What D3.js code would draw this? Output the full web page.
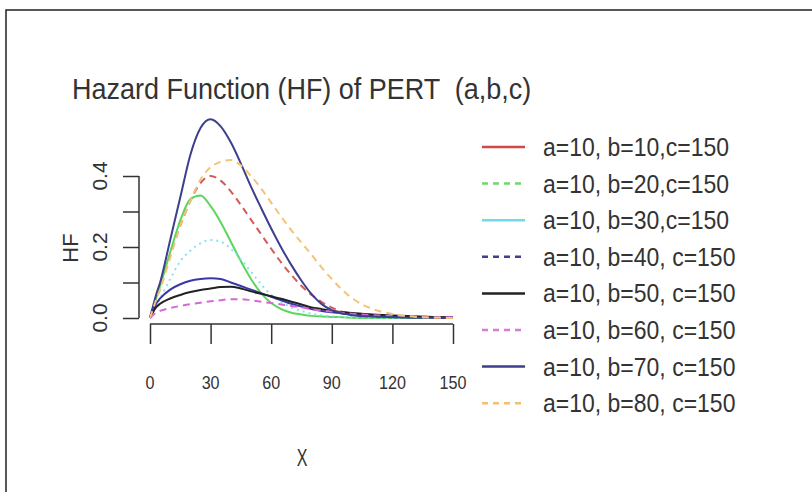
<!DOCTYPE html>
<html>
<head>
<meta charset="utf-8">
<script src="https://cdn.jsdelivr.net/npm/d3@7"></script>
<style>
  body { margin: 0; background: #fff; }
  text { font-family: "Liberation Sans", Arial, sans-serif; fill: #333; white-space: pre; }
</style>
</head>
<body>
<svg width="812" height="492"></svg>
<script>
// values
var xs = [0, 3, 5, 10, 15, 20, 25, 30, 35, 40, 45, 50, 55, 60, 65, 70, 75, 80, 85, 90, 95, 100, 110, 120, 130, 140, 150];

var hf_b10 = [0, 0.055, 0.09, 0.18, 0.26, 0.33, 0.38, 0.40, 0.387, 0.357, 0.318, 0.277, 0.236, 0.195, 0.156, 0.121, 0.09, 0.065, 0.045, 0.029, 0.018, 0.011, 0.005, 0.002, 0.001, 0, 0];
var hf_b20 = [0, 0.055, 0.09, 0.185, 0.275, 0.335, 0.345, 0.315, 0.27, 0.215, 0.16, 0.11, 0.07, 0.042, 0.025, 0.015, 0.01, 0.006, 0.004, 0.003, 0.002, 0.001, 0, 0, 0, 0, 0];
var hf_b30 = [0, 0.033, 0.055, 0.11, 0.16, 0.19, 0.21, 0.22, 0.215, 0.195, 0.165, 0.13, 0.095, 0.065, 0.045, 0.03, 0.02, 0.012, 0.008, 0.005, 0.003, 0.002, 0.001, 0, 0, 0, 0];
var hf_b40 = [0, 0.04, 0.055, 0.08, 0.095, 0.105, 0.11, 0.112, 0.11, 0.10, 0.09, 0.08, 0.07, 0.06, 0.05, 0.04, 0.032, 0.025, 0.02, 0.016, 0.013, 0.01, 0.007, 0.005, 0.003, 0.002, 0.001];
var hf_b50 = [0, 0.03, 0.04, 0.055, 0.065, 0.073, 0.079, 0.083, 0.087, 0.088, 0.083, 0.075, 0.068, 0.061, 0.054, 0.046, 0.038, 0.03, 0.025, 0.02, 0.017, 0.014, 0.01, 0.007, 0.005, 0.003, 0.002];
var hf_b60 = [0, 0.015, 0.02, 0.028, 0.034, 0.039, 0.043, 0.047, 0.05, 0.053, 0.053, 0.05, 0.046, 0.042, 0.038, 0.034, 0.03, 0.025, 0.021, 0.018, 0.015, 0.012, 0.008, 0.006, 0.004, 0.003, 0.002];
var hf_b70 = [0, 0.065, 0.10, 0.22, 0.34, 0.46, 0.535, 0.56, 0.54, 0.495, 0.435, 0.37, 0.31, 0.252, 0.198, 0.149, 0.105, 0.067, 0.039, 0.022, 0.013, 0.008, 0.004, 0.002, 0.001, 0.0005, 0];
var hf_b80 = [0, 0.05, 0.08, 0.17, 0.26, 0.33, 0.39, 0.425, 0.44, 0.445, 0.43, 0.40, 0.365, 0.325, 0.285, 0.247, 0.212, 0.178, 0.142, 0.11, 0.08, 0.056, 0.026, 0.011, 0.004, 0.001, 0];

var legendLabels = ["a=10, b=10,c=150", "a=10, b=20,c=150", "a=10, b=30,c=150", "a=10, b=40, c=150",
                    "a=10, b=50, c=150", "a=10, b=60, c=150", "a=10, b=70, c=150", "a=10, b=80, c=150"];
var xTicks = [0, 30, 60, 90, 120, 150];
var yTicks = [0, 0.1, 0.2, 0.3, 0.4];
var yTickLabels = ["0.0", "", "0.2", "", "0.4"];

// line styles: plot and legend do not agree in the original, keep both
var series = [
  {vals: hf_b10, color: "#d65a5a", plotDash: "7,5", legColor: "#d04848", legDash: null},
  {vals: hf_b20, color: "#5cd65c", plotDash: null,  legColor: "#6ed86e", legDash: "6,5"},
  {vals: hf_b30, color: "#86e2ee", plotDash: "2,4", legColor: "#6fdbea", legDash: null},
  {vals: hf_b40, color: "#3838a8", plotDash: null,  legColor: "#40408e", legDash: "6,5"},
  {vals: hf_b50, color: "#222222", plotDash: null,  legColor: "#222222", legDash: null},
  {vals: hf_b60, color: "#d46ad4", plotDash: "7,5", legColor: "#d47ed8", legDash: "6,5"},
  {vals: hf_b70, color: "#3d3f8e", plotDash: null,  legColor: "#3d3f8e", legDash: null},
  {vals: hf_b80, color: "#f2c478", plotDash: "7,5", legColor: "#f0c070", legDash: "6,5"}
];

var svg = d3.select("svg");

// frame of the screenshot
svg.append("path")
    .attr("d", "M6,492 L6,10 L812,10")
    .attr("fill", "none")
    .attr("stroke", "#222")
    .attr("stroke-width", 1.5);

var x = d3.scaleLinear().domain([0, 150]).range([150, 453]);
var y = d3.scaleLinear().domain([0, 0.4]).range([318, 176]);

// stretched text helper
function label(g, str, tx, ty, size, sx, rot, anchor) {
  return g.append("text")
      .attr("transform", "translate(" + tx + "," + ty + ") rotate(" + (rot || 0) + ") scale(" + sx + ",1)")
      .attr("text-anchor", anchor || "middle")
      .style("font-size", size + "px")
      .text(str);
}

// curves
var line = d3.line()
    .x(function(d) { return x(d[0]); })
    .y(function(d) { return y(d[1]); })
    .curve(d3.curveMonotoneX);

series.forEach(function(s) {
  svg.append("path")
      .datum(xs.map(function(v, i) { return [v, s.vals[i]]; }))
      .attr("fill", "none")
      .attr("stroke", s.color)
      .attr("stroke-width", 2)
      .attr("stroke-dasharray", s.plotDash)
      .attr("d", line);
});

// x axis
var xAxis = svg.append("g")
    .attr("transform", "translate(0,324)")
    .call(d3.axisBottom(x).tickValues(xTicks).tickSize(20).tickFormat(""));
xAxis.select(".domain").attr("stroke", "#333").attr("stroke-width", 1.5).attr("d", "M150,0H453");
xAxis.selectAll(".tick line").attr("stroke", "#333").attr("stroke-width", 1.5);
xTicks.forEach(function(t) {
  label(svg, String(t), x(t), 389, 19, 0.85);
});

// y axis
var yAxis = svg.append("g")
    .attr("transform", "translate(139,0)")
    .call(d3.axisLeft(y).tickValues(yTicks).tickSize(16).tickFormat(""));
yAxis.select(".domain").attr("stroke", "#333").attr("stroke-width", 1.5).attr("d", "M0,318V176");
yAxis.selectAll(".tick line").attr("stroke", "#333").attr("stroke-width", 1.5);
yTicks.forEach(function(t, i) {
  if (yTickLabels[i]) label(svg, yTickLabels[i], 107, y(t), 21, 1, -90);
});

// titles
label(svg, "Hazard Function (HF) of PERT  (a,b,c)", 72, 99, 30, 0.9, 0, "start");
label(svg, "X", 302, 466, 23, 0.7);
label(svg, "HF", 78, 248, 22, 1, -90);

// legend
var legend = svg.append("g");
series.forEach(function(s, i) {
  var cy = 147 + i * 36.6;
  legend.append("line")
      .attr("x1", 482).attr("x2", 525)
      .attr("y1", cy).attr("y2", cy)
      .attr("stroke", s.legColor)
      .attr("stroke-width", 2.5)
      .attr("stroke-dasharray", s.legDash);
  label(legend, legendLabels[i], 543, cy + 9, 25, 0.92, 0, "start");
});
</script>
</body>
</html>
